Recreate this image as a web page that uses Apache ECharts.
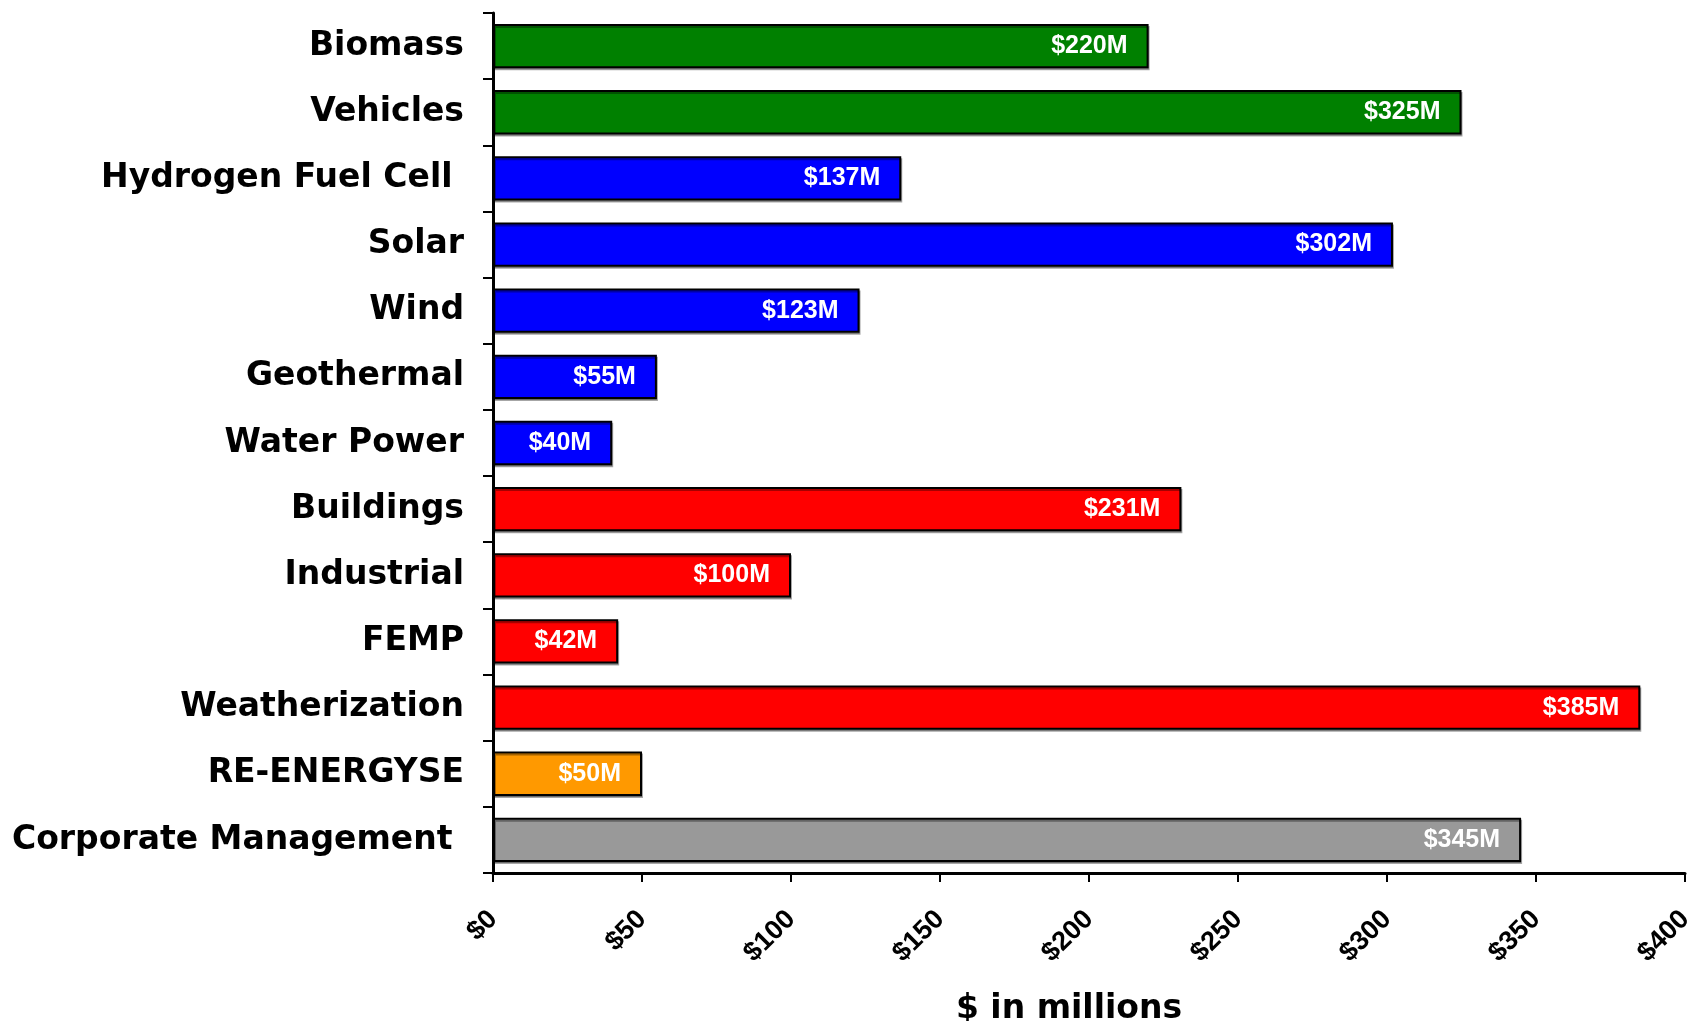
<!DOCTYPE html>
<html>
<head>
<meta charset="utf-8">
<script src="https://cdn.jsdelivr.net/npm/echarts@6/dist/echarts.min.js"></script>
<style>
html,body{margin:0;padding:0;background:#fff;}
#chart{width:1693px;height:1021px;}
</style>
</head>
<body>
<div id="chart"></div>
<script>
var categories = ['Biomass', 'Vehicles', 'Hydrogen Fuel Cell ', 'Solar', 'Wind', 'Geothermal', 'Water Power', 'Buildings', 'Industrial', 'FEMP', 'Weatherization', 'RE-ENERGYSE', 'Corporate Management '];
var values = [220, 325, 137, 302, 123, 55, 40, 231, 100, 42, 385, 50, 345];
var barColors = ['#008000', '#008000', '#0000FF', '#0000FF', '#0000FF', '#0000FF', '#0000FF', '#FF0000', '#FF0000', '#FF0000', '#FF0000', '#FF9900', '#999999'];
var xTicks = [0, 50, 100, 150, 200, 250, 300, 350, 400];

var FONT = 'DejaVu Sans';
var chart = echarts.init(document.getElementById('chart'), null, {renderer: 'canvas'});
chart.setOption({
  animation: false,
  backgroundColor: '#ffffff',
  grid: {left: 493, right: 8, top: 13, bottom: 148, containLabel: false, outerBoundsMode: 'none'},
  xAxis: {
    type: 'value',
    min: xTicks[0],
    max: xTicks[xTicks.length - 1],
    interval: xTicks[1] - xTicks[0],
    splitLine: {show: false},
    axisLine: {show: true, onZero: false, lineStyle: {color: '#000', width: 3}},
    axisTick: {show: true, length: 9, lineStyle: {color: '#000', width: 2}},
    axisLabel: {
      rotate: 45, margin: 42,
      fontFamily: 'Liberation Sans', fontWeight: 'bold', fontSize: 27, color: '#000',
      formatter: function (v) { return '$' + v; }
    },
    name: '$ in millions',
    nameLocation: 'middle',
    nameGap: 120,
    nameTextStyle: {fontFamily: FONT, fontWeight: 'bold', fontSize: 33, color: '#000', padding: [0, 40, 0, 0]}
  },
  yAxis: {
    type: 'category',
    data: categories,
    inverse: true,
    axisLine: {show: true, lineStyle: {color: '#000', width: 3}},
    axisTick: {show: true, length: 10, lineStyle: {color: '#000', width: 2}},
    axisLabel: {margin: 29, fontFamily: FONT, fontWeight: 'bold', fontSize: 33, color: '#000'}
  },
  series: [{
    type: 'bar',
    data: values.map(function (v, i) {
      return {value: v, itemStyle: {color: barColors[i]}};
    }),
    barCategoryGap: '33%',
    itemStyle: {borderColor: '#000', borderWidth: 2, shadowColor: 'rgba(0,0,0,0.35)', shadowOffsetY: 2, shadowOffsetX: 1, shadowBlur: 0},
    label: {
      show: true,
      position: 'insideRight',
      distance: 21,
      fontFamily: 'Liberation Sans',
      fontWeight: 'bold',
      fontSize: 25,
      color: '#fff',
      formatter: function (p) { return '$' + p.value + 'M'; }
    }
  }]
});
</script>
</body>
</html>
